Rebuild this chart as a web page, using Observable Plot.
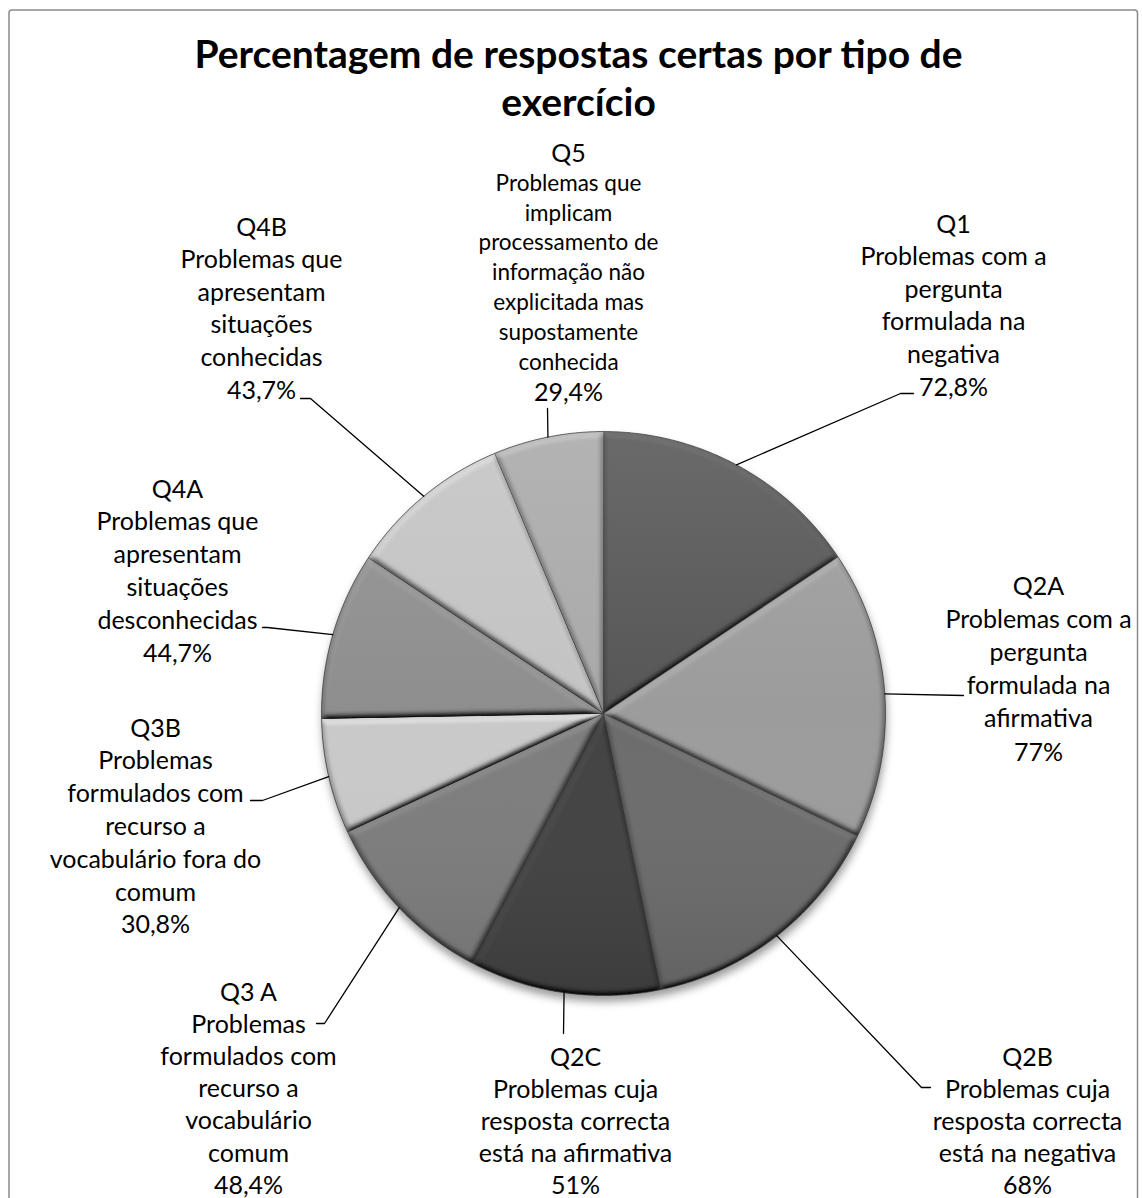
<!DOCTYPE html>
<html><head><meta charset="utf-8">
<script src="https://cdn.jsdelivr.net/npm/d3@7"></script>
<script src="https://cdn.jsdelivr.net/npm/@observablehq/plot@0.6"></script>
<style>body{margin:0;background:#fff}#chart svg{display:block}</style>
</head><body><div id="chart"></div>
<script>
// ---- data ----
const codes = ["Q1", "Q2A", "Q2B", "Q2C", "Q3 A", "Q3B", "Q4A", "Q4B", "Q5"];
const descriptions = [
  "Problemas com a\npergunta\nformulada na\nnegativa",
  "Problemas com a\npergunta\nformulada na\nafirmativa",
  "Problemas cuja\nresposta correcta\nestá na negativa",
  "Problemas cuja\nresposta correcta\nestá na afirmativa",
  "Problemas\nformulados com\nrecurso a\nvocabulário\ncomum",
  "Problemas\nformulados com\nrecurso a\nvocabulário fora do\ncomum",
  "Problemas que\napresentam\nsituações\ndesconhecidas",
  "Problemas que\napresentam\nsituações\nconhecidas",
  "Problemas que\nimplicam\nprocessamento de\ninformação não\nexplicitada mas\nsupostamente\nconhecida"
];
const values = [72.8, 77, 68, 51, 48.4, 30.8, 44.7, 43.7, 29.4];
const titleLines = ["Percentagem de respostas certas por tipo de", "exercício"];

// ---- styles / layout ----
const sliceColors = ["#565656", "#9c9c9c", "#6c6c6c", "#434343", "#7d7d7d", "#c9c9c9", "#8e8e8e", "#c3c3c3", "#a9a9a9"];
const W = 1142, H = 1198, CX = 603, CY = 713, R = 282;
// label anchor: [center x px, first line y px, line step px]
const labelLayout = [
  [953, 224, 32.6], [1038, 586, 33.2], [1027, 1057, 32.2], [575, 1057, 32.2],
  [248, 992, 32.2], [155, 728, 32.8], [177, 489, 32.8], [261, 227, 32.6], [568, 153, 29.9]
];
// leader elbows in px
const leaderLayout = [
  [[900, 393], [913, 393]], [[963, 695]], [[921, 1087], [930, 1087]], [[563, 1033]],
  [[324, 1023], [316, 1023]], [[262, 800], [250, 800]], [[267, 627], [262, 627]],
  [[310, 398], [300, 398]], [[547, 408]]
];
const ux = px => (px - CX) / R, uy = py => (CY - py) / R;
const fmt = v => String(v).replace(".", ",") + "%";

// ---- derived geometry (from values) ----
const arcs = d3.pie().sort(null).value(d => d)(values);
const slicePts = [];
arcs.forEach((a, i) => {
  slicePts.push({k: i, x: 0, y: 0, c: sliceColors[i]});
  const n = Math.max(4, Math.ceil((a.endAngle - a.startAngle) / 0.01));
  for (let j = 0; j <= n; j++) {
    const t = a.startAngle + (a.endAngle - a.startAngle) * j / n;
    slicePts.push({k: i, x: Math.sin(t), y: Math.cos(t), c: sliceColors[i]});
  }
});
const circlePts = d3.range(0, 360).map(d => ({x: Math.sin(d * Math.PI / 180), y: Math.cos(d * Math.PI / 180)}));
const leaderPts = [];
arcs.forEach((a, i) => {
  const m = (a.startAngle + a.endAngle) / 2;
  leaderPts.push({k: i, x: Math.sin(m), y: Math.cos(m)});
  leaderLayout[i].forEach(([px, py]) => leaderPts.push({k: i, x: ux(px), y: uy(py)}));
});
const bigLines = [], smallLines = [];
codes.forEach((c, i) => {
  const [lx, ly, step] = labelLayout[i];
  const desc = descriptions[i].split("\n");
  const lines = [c, ...desc, fmt(values[i])];
  lines.forEach((t, j) => {
    const rec = {x: ux(lx), y: uy(ly + j * step), text: t};
    if (i === 8 && j > 0 && j < lines.length - 1) smallLines.push(rec); else bigLines.push(rec);
  });
});

const font = "Lato, 'Open Sans', sans-serif";
const chart = Plot.plot({
  width: W, height: H, margin: 0,
  x: {domain: [ux(0), ux(W)], range: [0, W], axis: null},
  y: {domain: [uy(H), uy(0)], range: [H, 0], axis: null},
  color: {type: "identity"},
  style: {fontFamily: font, background: "#fff"},
  marks: [
    Plot.frame({stroke: "#8a8a8a", strokeWidth: 1.5, insetLeft: 8.5, insetTop: 9.5, insetRight: 5, insetBottom: -10, rx: 3}),
    Plot.line(circlePts, {x: "x", y: "y", fill: "#000", stroke: "none", fillOpacity: 0.4, dy: 6, dx: 1, curve: "linear-closed", ariaDescription: "shadow"}),
    Plot.line(slicePts, {x: "x", y: "y", z: "k", fill: "c", stroke: "#3a3a3a", strokeWidth: 0.8, strokeOpacity: 0.7, curve: "linear-closed", ariaDescription: "slice"}),
    Plot.line(circlePts, {x: "x", y: "y", fill: "url(#pieGrad)", stroke: "#555", strokeWidth: 1, strokeOpacity: 0.6, curve: "linear-closed", ariaDescription: "overlay"}),
    Plot.line(leaderPts, {x: "x", y: "y", z: "k", stroke: "#000", strokeWidth: 1.3}),
    Plot.text(bigLines, {x: "x", y: "y", text: "text", fontSize: 25, fill: "#000"}),
    Plot.text(smallLines, {x: "x", y: "y", text: "text", fontSize: 22.5, fill: "#000"}),
    Plot.text([titleLines[0]], {text: d => d, frameAnchor: "top", lineAnchor: "top", dx: 7, dy: 40, fontSize: 39, fontWeight: "bold", fill: "#000"}),
    Plot.text([titleLines[1]], {text: d => d, frameAnchor: "top", lineAnchor: "top", dx: 7, dy: 88, fontSize: 39, fontWeight: "bold", fill: "#000"})
  ]
});
document.getElementById("chart").appendChild(chart);

// ---- visual effects ----
const svg = d3.select(chart);
const defs = svg.insert("defs", ":first-child");
const g = defs.append("linearGradient").attr("id", "pieGrad").attr("x1", 0).attr("y1", 0).attr("x2", 0).attr("y2", 1);
g.append("stop").attr("offset", "0%").attr("stop-color", "#fff").attr("stop-opacity", 0.12);
g.append("stop").attr("offset", "50%").attr("stop-color", "#fff").attr("stop-opacity", 0);
g.append("stop").attr("offset", "100%").attr("stop-color", "#000").attr("stop-opacity", 0.1);
const sh = defs.append("filter").attr("id", "shadowBlur").attr("x", "-10%").attr("y", "-10%").attr("width", "120%").attr("height", "120%");
sh.append("feGaussianBlur").attr("stdDeviation", 4);
const bev = defs.append("filter").attr("id", "bevel").attr("x", "-2%").attr("y", "-2%").attr("width", "104%").attr("height", "104%");
bev.append("feGaussianBlur").attr("in", "SourceAlpha").attr("stdDeviation", 3).attr("result", "b");
const dl = bev.append("feDiffuseLighting").attr("in", "b").attr("surfaceScale", 6).attr("diffuseConstant", 0.8 / Math.sin(55 * Math.PI / 180)).attr("lighting-color", "#fff").attr("result", "l");
dl.append("feDistantLight").attr("azimuth", 260).attr("elevation", 55);
bev.append("feComposite").attr("in", "SourceGraphic").attr("in2", "l").attr("operator", "arithmetic").attr("k1", 1.25).attr("k2", 0).attr("k3", 0).attr("k4", 0).attr("result", "lit");
bev.append("feComposite").attr("in", "lit").attr("in2", "SourceAlpha").attr("operator", "in");
svg.selectAll('g[aria-description="shadow"]').attr("filter", "url(#shadowBlur)");
svg.selectAll('g[aria-description="slice"] path').attr("filter", "url(#bevel)");
</script>
</body></html>
